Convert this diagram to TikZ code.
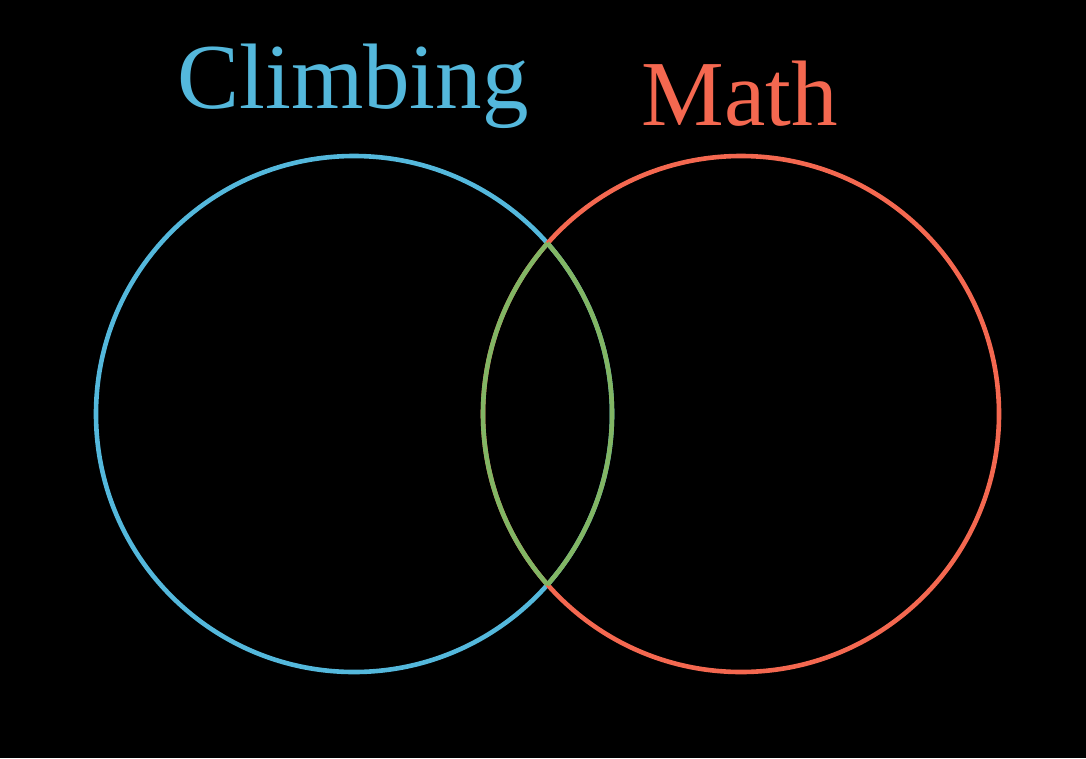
\documentclass[tikz,border=0pt]{standalone}
\usepackage{fontspec}
\setmainfont{Liberation Serif}

\definecolor{climbBlue}{RGB}{84,184,220}
\definecolor{mathRed}{RGB}{244,104,80}
\definecolor{bothGreen}{RGB}{130,182,100}

\def \circleRadius {258}
\def \lineWidth {4.6pt}

\begin{document}
\begin{tikzpicture}[x=1pt, y=-1pt]
         \fill[black] (0, 0) rectangle (1086, 758);
         \useasboundingbox (0, 0) rectangle (1086, 758);
         \coordinate (climbCenter) at (354, 414);
         \coordinate (mathCenter) at (741, 414);
         \draw[climbBlue, line width=\lineWidth] (climbCenter) circle (\circleRadius);
         \draw[mathRed, line width=\lineWidth] (mathCenter) circle (\circleRadius);
         % overlap of the two sets
         \begin{scope}
            \clip (mathCenter) circle (\circleRadius);
            \draw[bothGreen, line width=\lineWidth] (climbCenter) circle (\circleRadius);
         \end{scope}
         \begin{scope}
            \clip (climbCenter) circle (\circleRadius);
            \draw[bothGreen, line width=\lineWidth] (mathCenter) circle (\circleRadius);
         \end{scope}
         \node[anchor=base, climbBlue, font=\fontsize{93}{100}\selectfont, inner sep=0] (climbLabel) at (353, 108) {Climbing};
         \node[anchor=base, mathRed, font=\fontsize{93}{100}\selectfont, inner sep=0] (mathLabel) at (740, 125) {Math};
      \end{tikzpicture}
\end{document}
